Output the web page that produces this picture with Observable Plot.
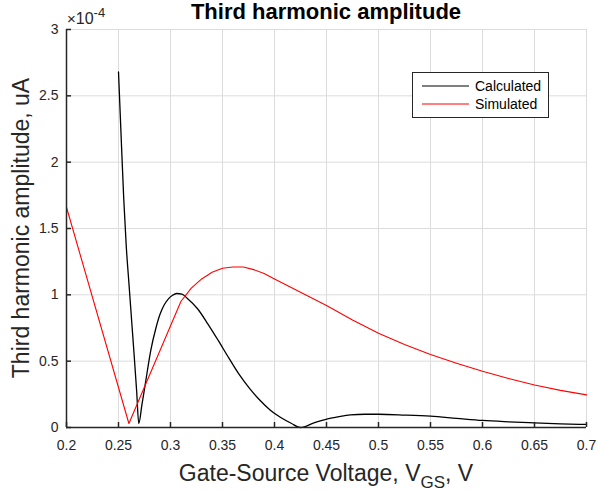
<!DOCTYPE html>
<html>
<head>
<meta charset="utf-8">
<script src="https://cdn.jsdelivr.net/npm/d3@7"></script>
<script src="https://cdn.jsdelivr.net/npm/@observablehq/plot@0.6"></script>
<style>
  html, body { margin: 0; padding: 0; background: #fff; }
  #chart { width: 597px; height: 491px; }
</style>
</head>
<body>
<div id="chart"></div>
<script>
// ---- Data (values in units of 1e-4 uA) ----
const calcVoltage = [0.250, 0.2525, 0.255, 0.2575, 0.260, 0.2625, 0.265, 0.2675, 0.2695,
  0.2725, 0.276, 0.281, 0.286, 0.290, 0.294, 0.298, 0.302, 0.306, 0.311, 0.316, 0.326,
  0.336, 0.346, 0.356, 0.366, 0.376, 0.386, 0.396, 0.406, 0.416, 0.425,
  0.438, 0.451, 0.462, 0.473, 0.487, 0.500, 0.525, 0.550, 0.575, 0.600, 0.625, 0.650, 0.675, 0.700];
const calcAmp = [2.68, 2.20, 1.73, 1.36, 1.09, 0.82, 0.55, 0.27, 0.03,
  0.17, 0.34, 0.58, 0.75, 0.855, 0.925, 0.97, 0.997, 1.01, 1.005, 0.975, 0.895,
  0.78, 0.655, 0.525, 0.40, 0.295, 0.205, 0.13, 0.075, 0.032, 0.0,
  0.035, 0.065, 0.082, 0.095, 0.100, 0.100, 0.094, 0.085, 0.069, 0.053, 0.043, 0.035, 0.028, 0.023];

const simVoltage = [0.20, 0.26, 0.31, 0.32, 0.33, 0.34, 0.35, 0.36, 0.37, 0.38, 0.39, 0.40,
  0.425, 0.45, 0.475, 0.50, 0.525, 0.55, 0.575, 0.60, 0.625, 0.65, 0.675, 0.70];
const simAmp = [1.66, 0.03, 0.95, 1.05, 1.12, 1.17, 1.20, 1.21, 1.21, 1.19, 1.16, 1.12,
  1.02, 0.92, 0.81, 0.71, 0.625, 0.55, 0.485, 0.424, 0.37, 0.32, 0.28, 0.246];

const xTicks = [0.2, 0.25, 0.3, 0.35, 0.4, 0.45, 0.5, 0.55, 0.6, 0.65, 0.7];
const yTicks = [0, 0.5, 1, 1.5, 2, 2.5, 3];
const seriesNames = ["Calculated", "Simulated"];
const seriesColors = ["#000000", "#ff0000"];

const calcData = calcVoltage.map((v, i) => ({v, a: calcAmp[i]}));
const simData = simVoltage.map((v, i) => ({v, a: simAmp[i]}));

const FONT = "'Liberation Sans', Arial, Helvetica, sans-serif";
const INK = "#262626";
const GRID = "#dcdcdc";

const W = 597, H = 491;
const mL = 66, mR = 11, mT = 29, mB = 64;

const plot = Plot.plot({
  width: W, height: H,
  marginLeft: mL, marginRight: mR, marginTop: mT, marginBottom: mB,
  style: { fontFamily: FONT, fontSize: "14px", color: INK, background: "#fff", overflow: "visible" },
  x: { domain: [0.2, 0.7] },
  y: { domain: [0, 3] },
  marks: [
    Plot.gridX(xTicks, { stroke: GRID, strokeOpacity: 1, strokeWidth: 1 }),
    Plot.gridY(yTicks, { stroke: GRID, strokeOpacity: 1, strokeWidth: 1 }),
    Plot.line(calcData, { x: "v", y: "a", stroke: seriesColors[0], strokeWidth: 1.3, curve: "monotone-x" }),
    Plot.line(simData, { x: "v", y: "a", stroke: seriesColors[1], strokeWidth: 1.1 }),
    Plot.ruleY([0], { stroke: INK, strokeWidth: 1.5 }),
    Plot.ruleX([0.2], { stroke: INK, strokeWidth: 1.5 }),
    Plot.axisX(xTicks, { tickSize: -5, tickPadding: 18, stroke: INK, strokeWidth: 1.5, fill: INK, fontSize: 14, label: null, tickFormat: d3.format("~g") }),
    Plot.axisY(yTicks, { tickSize: -5, tickPadding: 13, stroke: INK, strokeWidth: 1.5, fill: INK, fontSize: 14, label: null, tickFormat: d3.format("~g") })
  ]
});

document.getElementById("chart").appendChild(plot);

const svg = d3.select(plot);
const cx = mL + (W - mL - mR) / 2;

// Title
svg.append("text")
  .attr("x", cx).attr("y", 19)
  .style("text-anchor", "middle")
  .style("font-family", FONT).style("font-size", "22px").style("font-weight", "bold")
  .style("fill", "#000")
  .text("Third harmonic amplitude");

// Exponent label
const ex = svg.append("text")
  .attr("x", 67).attr("y", 24)
  .style("text-anchor", "start")
  .style("font-family", FONT).style("font-size", "16px").style("fill", INK);
ex.append("tspan").style("font-size", "15px").text("\u00d7");
ex.append("tspan").style("font-size", "16px").text("10");
ex.append("tspan").attr("dy", -7).style("font-size", "13px").text("-4");

// Y label
svg.append("text")
  .attr("transform", `translate(29,${mT + (H - mT - mB) / 2}) rotate(-90)`)
  .style("text-anchor", "middle")
  .style("font-family", FONT).style("font-size", "23px").style("fill", INK)
  .text("Third harmonic amplitude, uA");

// X label
const xl = svg.append("text")
  .attr("x", cx).attr("y", 481)
  .style("text-anchor", "middle")
  .style("font-family", FONT).style("font-size", "23px").style("fill", INK);
xl.append("tspan").text("Gate-Source Voltage, V");
xl.append("tspan").attr("dy", 7).style("font-size", "17px").text("GS");
xl.append("tspan").attr("dy", -7).text(", V");

// Legend
const lg = svg.append("g");
lg.append("rect")
  .attr("x", 412.5).attr("y", 72.5).attr("width", 136).attr("height", 45)
  .attr("fill", "#fff").attr("stroke", INK).attr("stroke-width", 1);
seriesNames.forEach((name, i) => {
  const y = 86 + i * 18;
  lg.append("line").attr("x1", 422).attr("x2", 469).attr("y1", y).attr("y2", y)
    .attr("stroke", seriesColors[i]).attr("stroke-width", 1.2);
  lg.append("text").attr("x", 475).attr("y", y + 5)
    .style("text-anchor", "start")
    .style("font-family", FONT).style("font-size", "14px").style("fill", "#000")
    .text(name);
});
</script>
</body>
</html>
